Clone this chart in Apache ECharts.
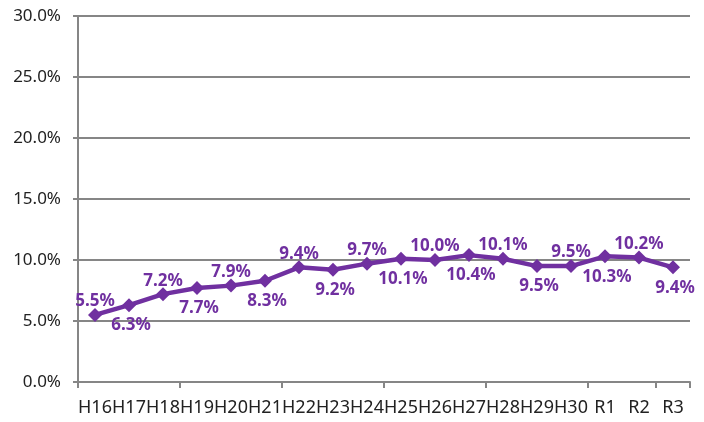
<!DOCTYPE html>
<html><head><meta charset="utf-8">
<script src="https://cdn.jsdelivr.net/npm/echarts@6/dist/echarts.min.js"></script>
<style>html,body{margin:0;padding:0;background:#fff}#c{width:704px;height:422px}</style>
</head><body><div id="c"></div>
<script>
const categories = ['H16','H17','H18','H19','H20','H21','H22','H23','H24','H25','H26','H27','H28','H29','H30','R1','R2','R3'];
const values = [5.5,6.3,7.2,7.7,7.9,8.3,9.4,9.2,9.7,10.1,10.0,10.4,10.1,9.5,9.5,10.3,10.2,9.4];
const yTicks = [0,5,10,15,20,25,30];

const color = '#7030A0';
const data = values.map((v,i)=>({
  value: v,
  label: i % 2 === 0 ? { position:'top', offset:[0,7] } : { position:'bottom', offset:[2,0] }
}));
const chart = echarts.init(document.getElementById('c'));
chart.setOption({
  animation:false,
  grid:{left:78,right:14,top:16,bottom:40},
  xAxis:{type:'category',data:categories,boundaryGap:true,
    axisLine:{lineStyle:{color:'#868686',width:2}},
    axisTick:{show:true,interval:2,length:6,lineStyle:{color:'#868686',width:2}},
    axisLabel:{interval:0,color:'#222',fontSize:18,fontFamily:'Noto Sans',margin:17}
  },
  yAxis:{type:'value',min:yTicks[0],max:yTicks[yTicks.length-1],interval:5,
    axisLine:{show:true,lineStyle:{color:'#868686',width:2}},
    axisTick:{show:true,length:5,lineStyle:{color:'#868686',width:2}},
    splitLine:{lineStyle:{color:'#868686',width:2}},
    axisLabel:{color:'#222',fontSize:17,fontFamily:'Noto Sans',margin:17,formatter:v=>v.toFixed(1)+'%'}
  },
  series:[{type:'line',data:data,
    lineStyle:{color:color,width:4.5},
    itemStyle:{color:color},
    symbol:'diamond',symbolSize:14,
    label:{show:true,color:color,fontWeight:'bold',fontSize:17,fontFamily:'Noto Sans',distance:5,
      formatter:p=>p.value.toFixed(1)+'%'}
  }]
});
</script></body></html>
